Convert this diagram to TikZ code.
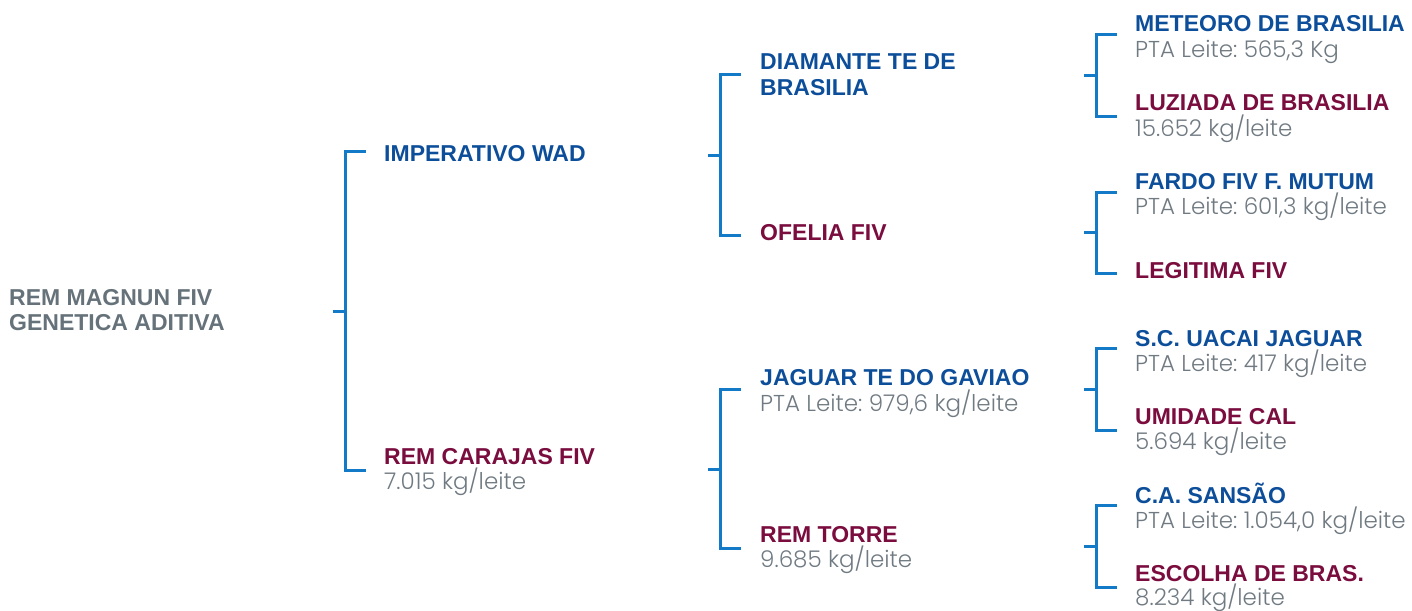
\documentclass[tikz,border=0pt]{standalone}
\usepackage{fontspec}
\setmainfont{Liberation Sans}
\newfontfamily\valfont{Poppins Light}
\definecolor{nblue}{RGB}{12,78,154}
\definecolor{nred}{RGB}{122,12,62}
\definecolor{ngray}{RGB}{102,114,122}
\definecolor{vgray}{RGB}{112,122,130}
\definecolor{brblue}{RGB}{18,122,198}
\tikzset{
  nm/.style={anchor=base west,inner sep=0pt,font=\bfseries\fontsize{23}{26}\selectfont},
  male/.style={nm,text=nblue},
  female/.style={nm,text=nred},
  root/.style={nm,text=ngray,align=left},
  val/.style={anchor=base west,inner sep=0pt,text=vgray,font=\valfont\fontsize{23}{26}\selectfont},
  br/.style={draw=brblue,line width=3pt,line join=miter}
}
\newcommand{\mybracket}[5]{% name, x, ytop, ybot, ystub
  \coordinate (#1) at (#2,#5);
  \coordinate (#1t) at (#2+21,#3);
  \coordinate (#1b) at (#2+21,#4);
  \coordinate (#1s) at (#2-12,#5);
  \draw[br] (#1t) -| (#1) |- (#1b);
  \draw[br] (#1s) -- (#1);
}
\frenchspacing
\begin{document}
\begin{tikzpicture}[x=1pt,y=-1pt]
\useasboundingbox (0,0) rectangle (1412,610);
% root
\node[root] (r1) at (9,305) {REM MAGNUN FIV};
\node[root] (r2) at (9,330) {GENETICA ADITIVA};
% level 1
\node[male] (imp) at (384,161) {IMPERATIVO WAD};
\node[female] (car) at (384,464) {REM CARAJAS FIV};
\node[val] (carv) at (384,489) {7.015 kg/leite};
% level 2
\node[male] (dia1) at (760,69) {DIAMANTE TE DE};
\node[male] (dia2) at (760,95) {BRASILIA};
\node[female] (ofe) at (760,240) {OFELIA FIV};
\node[male] (jag) at (760,385) {JAGUAR TE DO GAVIAO};
\node[val] (jagv) at (760,411) {PTA Leite: 979,6 kg/leite};
\node[female] (tor) at (760,542) {REM TORRE};
\node[val] (torv) at (760,567) {9.685 kg/leite};
% level 3
\node[male] (met) at (1135,32) {METEORO DE BRASILIA};
\node[val] (metv) at (1135,57) {PTA Leite: 565,3 Kg};
\node[female] (luz) at (1135,110) {LUZIADA DE BRASILIA};
\node[val] (luzv) at (1135,136) {15.652 kg/leite};
\node[male] (far) at (1135,189) {FARDO FIV F. MUTUM};
\node[val] (farv) at (1135,214) {PTA Leite: 601,3 kg/leite};
\node[female] (leg) at (1135,278) {LEGITIMA FIV};
\node[male] (uac) at (1135,346) {S.C. UACAI JAGUAR};
\node[val] (uacv) at (1135,371) {PTA Leite: 417 kg/leite};
\node[female] (umi) at (1135,424) {UMIDADE CAL};
\node[val] (umiv) at (1135,449) {5.694 kg/leite};
\node[male] (san) at (1135,503) {C.A. SANSÃO};
\node[val] (sanv) at (1135,528) {PTA Leite: 1.054,0 kg/leite};
\node[female] (esc) at (1135,581) {ESCOLHA DE BRAS.};
\node[val] (escv) at (1135,605) {8.234 kg/leite};
% brackets
\mybracket{b1}{345}{151}{470}{311}
\mybracket{b2}{720}{74}{235}{155}
\mybracket{b3}{720}{389}{548}{469}
\mybracket{b4}{1096}{35}{116}{75}
\mybracket{b5}{1096}{192}{273}{232}
\mybracket{b6}{1096}{348}{430}{389}
\mybracket{b7}{1096}{505}{587}{546}
\end{tikzpicture}
\end{document}
